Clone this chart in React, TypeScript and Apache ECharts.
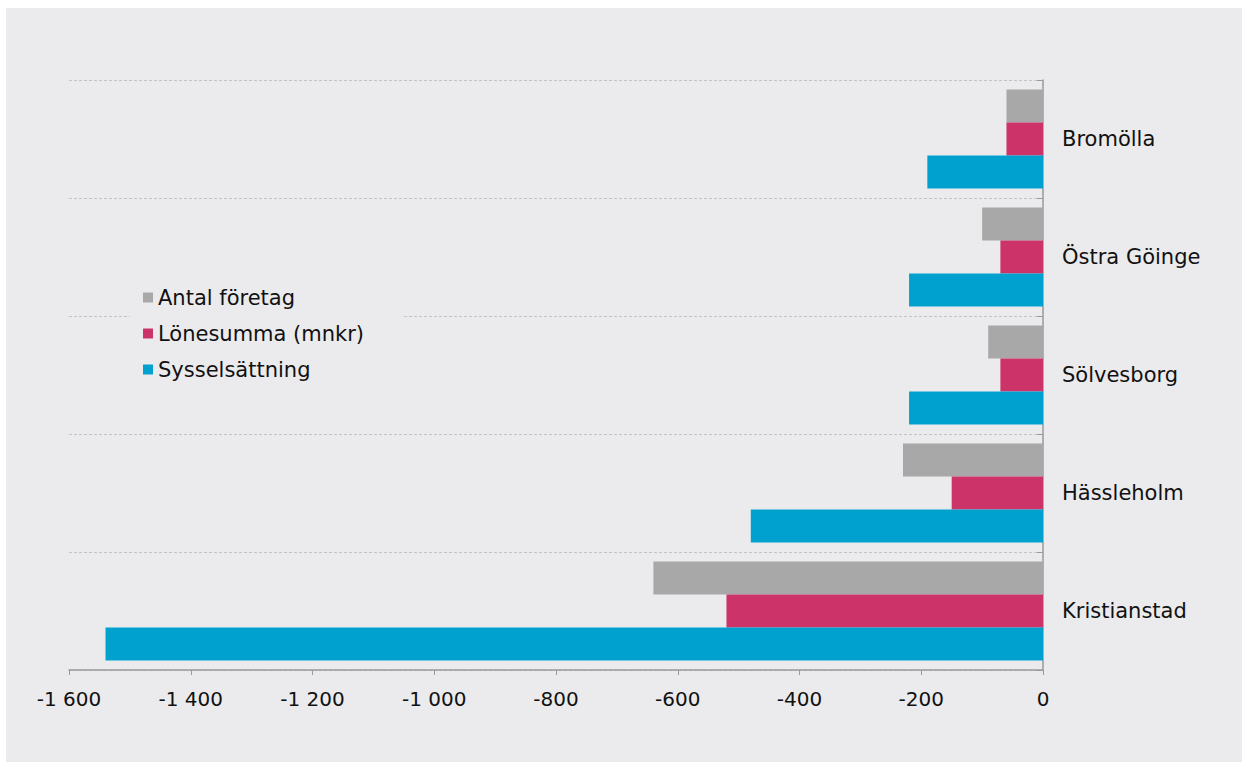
import React, { useEffect, useRef } from "react";
import * as echarts from "echarts";

const categories = ["Bromölla", "Östra Göinge", "Sölvesborg", "Hässleholm", "Kristianstad"];
const antalForetag = [-60, -100, -90, -230, -640];
const lonesumma = [-60, -70, -70, -150, -520];
const sysselsattning = [-190, -220, -220, -480, -1540];
const seriesNames = ["Antal företag", "Lönesumma (mnkr)", "Sysselsättning"];
const colors = ["#a8a8a8", "#cc3469", "#00a1cf"];

const BG = "#ebebed";
const FONT = "'DejaVu Sans', sans-serif";

function fmt(v: number): string {
  const s = Math.abs(v).toString().replace(/\B(?=(\d{3})+(?!\d))/g, " ");
  return (v < 0 ? "-" : "") + s;
}

export default function App() {
  const ref = useRef<HTMLDivElement>(null);
  useEffect(() => {
    if (!ref.current) return;
    const chart = echarts.init(ref.current, null, { renderer: "svg" });
    const data = [antalForetag, lonesumma, sysselsattning];
    chart.setOption({
      animation: false,
      backgroundColor: BG,
      textStyle: { fontFamily: FONT },
      grid: { left: 63, right: 199, top: 72, bottom: 92, containLabel: false },
      legend: {
        orient: "vertical",
        left: 124,
        top: 269,
        padding: [10, 40, 10, 13],
        backgroundColor: BG,
        itemWidth: 10,
        itemHeight: 10,
        itemGap: 15,
        icon: "rect",
        textStyle: { fontSize: 21, color: "#111", fontFamily: FONT, lineHeight: 21, padding: [0, 0, 0, 0] },
        data: seriesNames,
      },
      xAxis: {
        type: "value",
        min: -1600,
        max: 0,
        interval: 200,
        axisLine: { show: true, lineStyle: { color: "#9a9a9a", width: 1.5 } },
        axisTick: { show: true, length: 5, lineStyle: { color: "#9a9a9a" } },
        splitLine: { show: false },
        axisLabel: { fontSize: 20, color: "#111", margin: 19, formatter: (v: number) => fmt(v) },
      },
      yAxis: {
        type: "category",
        position: "right",
        inverse: true,
        data: categories,
        axisLine: { show: true, lineStyle: { color: "#9a9a9a", width: 1.5 } },
        axisTick: { show: true, inside: true, length: 6, lineStyle: { color: "#9a9a9a" } },
        splitLine: { show: true, lineStyle: { color: "#c4c4c4", type: [3, 2], width: 1 } },
        axisLabel: { fontSize: 21, color: "#111", margin: 19, padding: [4, 0, 0, 0] },
      },
      series: seriesNames.map((name, i) => ({
        name,
        type: "bar",
        data: data[i],
        itemStyle: { color: colors[i] },
        barGap: "0%",
        barCategoryGap: "16%",
      })),
    });
    return () => chart.dispose();
  }, []);
  return (
    <div
      ref={ref}
      style={{ position: "absolute", left: 6, top: 8, width: 1236, height: 754, background: BG }}
    />
  );
}
